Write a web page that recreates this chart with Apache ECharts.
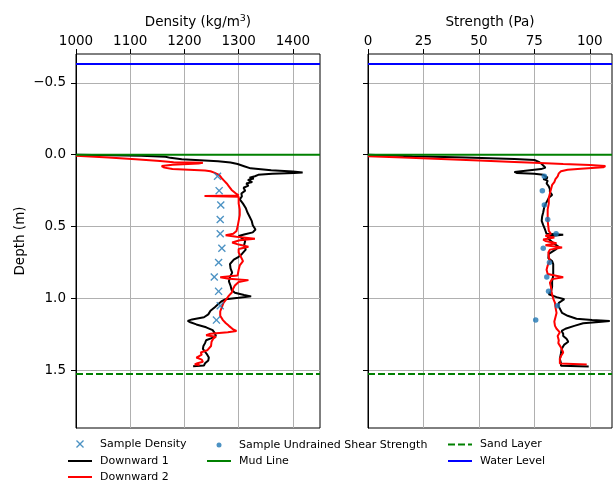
<!DOCTYPE html>
<html><head><meta charset="utf-8">
<script src="https://cdn.jsdelivr.net/npm/echarts@6/dist/echarts.min.js"></script>
<style>html,body{margin:0;padding:0;background:#fff}#c{width:614px;height:483px}</style>
</head><body><div id="c"></div>
<script>
// ---- data ----
const densityTicks = [1000, 1100, 1200, 1300, 1400];
const strengthTicks = [0, 25, 50, 75, 100];
const depthTicks = [-0.5, 0, 0.5, 1.0, 1.5];
const densityRange = [1000, 1450];
const strengthRange = [0, 110];
const depthRange = [-0.7, 1.9];

const waterLevel = -0.63;
const mudLine = 0.0;
const sandLayer = 1.525;

const sampleDepths = [0.15, 0.25, 0.35, 0.45, 0.55, 0.65, 0.75, 0.85, 0.95, 1.05, 1.15];
const sampleDensity = [1261, 1264, 1267, 1266, 1266, 1269, 1263, 1255, 1263, 1266, 1259];
const sampleStrength = [79.5, 78.6, 79.5, 81.0, 84.8, 79.0, 81.8, 80.6, 81.4, 85.4, 75.6];

// [depth, density]
const down1Density = [
 [0,1000],[0.008,1120],[0.014,1165],[0.022,1174],[0.032,1195],[0.045,1262],[0.055,1285],[0.065,1298],
 [0.08,1310],[0.095,1322],[0.108,1360],[0.117,1400],[0.123,1418],[0.128,1402],[0.133,1362],[0.14,1336],
 [0.15,1330],[0.16,1320],[0.165,1328],[0.175,1317],[0.19,1325],[0.2,1314],[0.215,1318],[0.23,1309],
 [0.25,1312],[0.27,1305],[0.29,1306],[0.31,1302],[0.34,1308],[0.37,1313],[0.4,1316],[0.43,1320],
 [0.46,1324],[0.49,1326],[0.52,1331],[0.54,1326],[0.555,1310],[0.565,1300],[0.58,1306],[0.6,1312],
 [0.63,1310],[0.66,1313],[0.69,1306],[0.71,1300],[0.73,1291],[0.76,1284],[0.79,1285],[0.82,1288],
 [0.85,1284],[0.88,1282],[0.91,1285],[0.94,1287],[0.96,1293],[0.975,1310],[0.985,1323],[0.995,1300],
 [1.005,1276],[1.02,1268],[1.04,1262],[1.06,1256],[1.085,1248],[1.11,1244],[1.13,1236],[1.145,1214],
 [1.155,1206],[1.165,1211],[1.18,1222],[1.2,1240],[1.22,1252],[1.24,1256],[1.26,1258],[1.275,1250],
 [1.29,1240],[1.31,1238],[1.33,1235],[1.35,1234],[1.37,1238],[1.39,1242],[1.41,1245],[1.43,1244],
 [1.45,1238],[1.465,1236],[1.47,1216]
];
const down2Density = [
 [0.008,1000],[0.02,1060],[0.032,1110],[0.044,1155],[0.052,1180],[0.056,1234],[0.062,1226],[0.07,1178],
 [0.079,1158],[0.09,1163],[0.1,1178],[0.11,1238],[0.115,1248],[0.125,1255],[0.14,1264],[0.16,1268],
 [0.18,1273],[0.2,1278],[0.22,1282],[0.245,1287],[0.27,1295],[0.283,1300],[0.287,1237],[0.292,1300],
 [0.31,1300],[0.34,1300],[0.38,1302],[0.42,1302],[0.46,1300],[0.5,1298],[0.53,1296],[0.55,1290],
 [0.56,1276],[0.57,1296],[0.585,1330],[0.595,1302],[0.61,1288],[0.625,1300],[0.64,1318],[0.655,1300],
 [0.68,1300],[0.71,1304],[0.74,1308],[0.77,1302],[0.8,1300],[0.84,1298],[0.852,1266],[0.862,1282],
 [0.872,1318],[0.885,1300],[0.91,1293],[0.93,1290],[0.96,1287],[0.98,1282],[1.0,1278],[1.03,1272],
 [1.06,1269],[1.09,1266],[1.12,1266],[1.15,1271],[1.17,1276],[1.19,1282],[1.2,1280],[1.215,1290],
 [1.225,1296],[1.235,1280],[1.245,1248],[1.255,1240],[1.265,1258],[1.28,1253],[1.3,1250],[1.33,1249],
 [1.36,1242],[1.375,1230],[1.39,1232],[1.41,1222],[1.425,1232],[1.44,1234],[1.45,1224],[1.458,1219],
 [1.462,1228]
];
// [depth, strength]
const down1Strength = [
 [0,0],[0.01,20],[0.02,44],[0.03,66],[0.037,75],[0.05,77],[0.06,78],[0.075,79],[0.09,80],[0.1,78],
 [0.11,72],[0.12,66],[0.127,67],[0.133,75],[0.14,79],[0.15,80],[0.16,81],[0.17,79],[0.18,81],[0.2,80.5],
 [0.22,81.5],[0.24,82],[0.26,82],[0.28,83],[0.3,81.5],[0.33,80.5],[0.36,79.5],[0.4,79],[0.43,78.5],
 [0.46,78.3],[0.49,79],[0.52,79.8],[0.55,80.5],[0.557,88],[0.565,82],[0.58,81],[0.6,82.5],[0.62,84],
 [0.64,86],[0.66,84.5],[0.69,81.5],[0.72,81.3],[0.74,83],[0.76,83.5],[0.8,83.5],[0.84,83.5],[0.88,83],
 [0.92,83],[0.95,82.5],[0.97,81.5],[0.99,85],[1.005,88.5],[1.015,88.8],[1.03,86],[1.05,85.8],[1.07,86.5],
 [1.1,87.5],[1.12,90],[1.14,94],[1.15,101],[1.156,109],[1.163,104],[1.172,97],[1.19,93],[1.21,89],
 [1.225,87.3],[1.245,88],[1.26,88],[1.28,89.5],[1.3,90.3],[1.32,88.5],[1.35,87.3],[1.38,87],[1.42,86.5],
 [1.45,87],[1.468,87],[1.472,99.5]
];
const down2Strength = [
 [0.01,0],[0.02,16],[0.03,33],[0.04,50],[0.05,66],[0.056,75],[0.065,88],[0.072,100],[0.079,107],
 [0.088,106],[0.097,96],[0.105,90],[0.115,87],[0.13,86],[0.15,85.5],[0.17,84.5],[0.19,84],[0.21,83],
 [0.24,82.5],[0.27,82],[0.3,81.5],[0.34,81.5],[0.38,81],[0.42,81],[0.46,81],[0.5,81.3],[0.53,81.5],
 [0.55,82.5],[0.565,80],[0.575,84],[0.59,79],[0.6,80],[0.615,85],[0.63,80],[0.645,87.5],[0.66,82],
 [0.68,81.3],[0.71,81.5],[0.74,82],[0.77,81],[0.8,80.5],[0.83,81],[0.852,88],[0.865,83],[0.89,82],
 [0.92,82.5],[0.96,82.8],[1.0,83.5],[1.03,84.3],[1.06,84.5],[1.1,85],[1.13,84.5],[1.16,84],[1.19,84.3],
 [1.21,85],[1.235,86.5],[1.26,85.5],[1.29,86],[1.31,85.8],[1.34,87],[1.375,88],[1.4,87],[1.42,86.5],
 [1.452,86.5],[1.458,98.6]
];

// ---- chart ----
const FONT = 'DejaVu Sans';
const FS = 13.5;
const flip = arr => arr.map(p => [p[1], p[0]]);
const hline = (y, range) => [[range[0], y], [range[1], y]];
const fmtDepth = v => v.toFixed(1).replace('-', '\u2212');
const XSYM = 'path://M1.2,0L5,3.8L8.8,0L10,1.2L6.2,5L10,8.8L8.8,10L5,6.2L1.2,10L0,8.8L3.8,5L0,1.2Z';
const SOLID_ICON = 'path://M0,0H24V2H0Z';
const DASH_ICON = 'path://M0,0H7V2H0ZM10,0H17V2H10ZM20,0H24V2H20Z';

function xAxisCfg(idx, range, ticks, interval, name, gap) {
  return {
    gridIndex: idx, type: 'value', position: 'top', min: range[0], max: range[1], interval: interval,
    name: name, nameLocation: 'middle', nameGap: gap,
    nameTextStyle: { color: '#000', fontSize: FS, fontFamily: FONT,
      rich: { sup: { fontSize: 9.5, fontFamily: FONT, color: '#000', verticalAlign: 'bottom', padding: [0, 0, 7, 0] } } },
    axisLine: { show: false, onZero: false },
    axisTick: { show: true, length: 5, inside: false, customValues: ticks, lineStyle: { color: '#000', width: 1 } },
    axisLabel: { margin: 6, color: '#000', fontSize: FS, fontFamily: FONT, customValues: ticks,
      formatter: v => String(v) },
    splitLine: { show: true, lineStyle: { color: '#b0b0b0', width: 1 } }
  };
}
function yAxisCfg(idx, showLabels) {
  return {
    gridIndex: idx, type: 'value', inverse: true, min: depthRange[0], max: depthRange[1], splitNumber: 5,
    name: showLabels ? 'Depth (m)' : '', nameLocation: 'middle', nameGap: 49,
    nameTextStyle: { color: '#000', fontSize: FS, fontFamily: FONT },
    axisLine: { show: true, onZero: false, lineStyle: { color: '#000', width: 1 } },
    axisTick: { show: true, length: 5, inside: false, customValues: depthTicks, lineStyle: { color: '#000', width: 1 } },
    axisLabel: { show: showLabels, margin: 10, color: '#000', fontSize: FS, fontFamily: FONT,
      customValues: depthTicks, formatter: fmtDepth },
    splitLine: { show: true, lineStyle: { color: '#b0b0b0', width: 1 } }
  };
}
function lineS(name, idx, data, color, extra) {
  return Object.assign({
    name: name, type: 'line', xAxisIndex: idx, yAxisIndex: idx, data: data,
    symbol: 'none', showSymbol: false, silent: true, clip: true,
    lineStyle: { color: color, width: 2 }, itemStyle: { color: color }, z: 3
  }, extra || {});
}
function refLines(idx, range) {
  return [
    lineS('Water Level', idx, hline(waterLevel, range), '#0000ff', { z: 4 }),
    lineS('Mud Line', idx, hline(mudLine, range), '#008000', { z: 4 }),
    lineS('Sand Layer', idx, hline(sandLayer, range), '#008000',
      { z: 4, lineStyle: { color: '#008000', width: 2, type: [7, 3] } })
  ];
}
function legendItem(name, left, top, iw, ih, pad, icon) {
  const item = { name: name };
  if (icon) item.icon = icon;
  return {
    data: [item], left: left, top: top, orient: 'vertical', padding: 0,
    itemWidth: iw, itemHeight: ih, selectedMode: false,
    textStyle: { color: '#000', fontSize: 11, fontFamily: FONT, padding: [0, 0, 0, pad] }
  };
}

const chart = echarts.init(document.getElementById('c'), null, { renderer: 'canvas' });
chart.setOption({
  animation: false,
  backgroundColor: '#fff',
  grid: [
    { left: 76, top: 54, width: 244, height: 374, show: true, borderColor: '#000', borderWidth: 1, backgroundColor: 'transparent' },
    { left: 368, top: 54, width: 244, height: 374, show: true, borderColor: '#000', borderWidth: 1, backgroundColor: 'transparent' }
  ],
  xAxis: [
    xAxisCfg(0, densityRange, densityTicks, 100, 'Density (kg/m{sup|3})', 22),
    xAxisCfg(1, strengthRange, strengthTicks, 25, 'Strength (Pa)', 24)
  ],
  yAxis: [yAxisCfg(0, true), yAxisCfg(1, false)],
  legend: [
    legendItem('Sample Density', 76, 438.5, 8, 8, 11),
    legendItem('Downward 1', 68, 455.5, 24, 2, 3, SOLID_ICON),
    legendItem('Downward 2', 68, 471.5, 24, 2, 3, SOLID_ICON),
    legendItem('Sample Undrained Shear Strength', 216.5, 439.5, 5, 5, 12.5),
    legendItem('Mud Line', 207, 455.5, 24, 2, 3, SOLID_ICON),
    legendItem('Sand Layer', 448, 439, 24, 2, 3, DASH_ICON),
    legendItem('Water Level', 448, 455.5, 24, 2, 3, SOLID_ICON)
  ],
  series: [
    ...refLines(0, densityRange),
    lineS('Downward 1', 0, flip(down1Density), '#000000'),
    lineS('Downward 2', 0, flip(down2Density), '#ff0000'),
    { name: 'Sample Density', type: 'scatter', xAxisIndex: 0, yAxisIndex: 0, silent: true, z: 5,
      symbol: XSYM, symbolSize: 8, symbolKeepAspect: true, itemStyle: { color: '#1f77b4' },
      data: sampleDepths.map((d, i) => [sampleDensity[i], d]) },
    ...refLines(1, strengthRange),
    lineS('Downward 1', 1, flip(down1Strength), '#000000'),
    lineS('Downward 2', 1, flip(down2Strength), '#ff0000'),
    { name: 'Sample Undrained Shear Strength', type: 'scatter', xAxisIndex: 1, yAxisIndex: 1, silent: true, z: 5,
      symbol: 'circle', symbolSize: 5.5, itemStyle: { color: '#1f77b4' },
      data: sampleDepths.map((d, i) => [sampleStrength[i], d]) }
  ]
});
</script>
</body></html>
